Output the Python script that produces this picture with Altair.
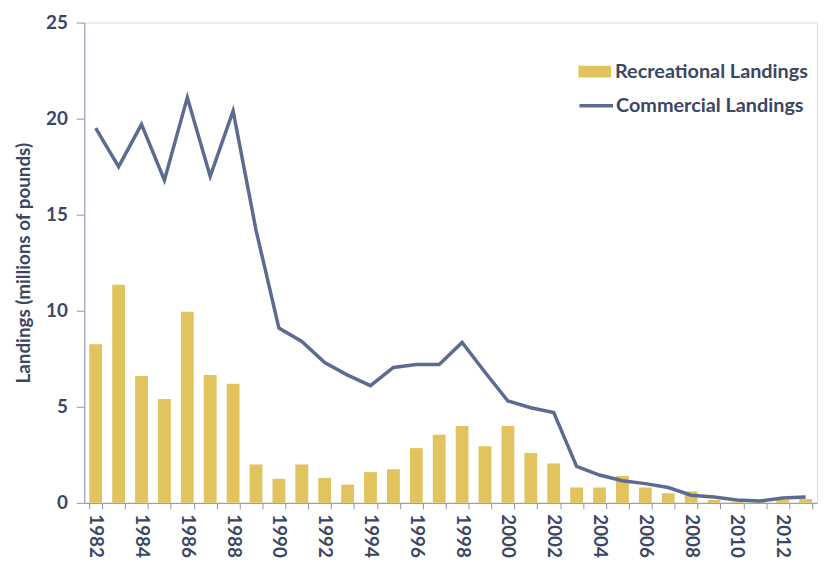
import altair as alt
import pandas as pd

years = [1982, 1983, 1984, 1985, 1986, 1987, 1988, 1989, 1990, 1991,
         1992, 1993, 1994, 1995, 1996, 1997, 1998, 1999, 2000, 2001,
         2002, 2003, 2004, 2005, 2006, 2007, 2008, 2009, 2010, 2011,
         2012, 2013]
recreational = [8.25, 11.35, 6.6, 5.4, 9.95, 6.65, 6.2, 2.0, 1.25, 2.0,
                1.3, 0.95, 1.6, 1.75, 2.85, 3.55, 4.0, 2.95, 4.0, 2.6,
                2.05, 0.8, 0.8, 1.4, 0.8, 0.5, 0.6, 0.15, 0.05, 0.05,
                0.15, 0.2]
commercial = [19.5, 17.5, 19.7, 16.8, 21.1, 17.0, 20.4, 14.2, 9.1, 8.4,
              7.3, 6.65, 6.1, 7.05, 7.2, 7.2, 8.35, 6.8, 5.3, 4.95,
              4.7, 1.9, 1.45, 1.15, 1.0, 0.8, 0.4, 0.3, 0.15, 0.1,
              0.25, 0.3]
y_ticks = [0, 5, 10, 15, 20, 25]

FONT = "Lato"
TXT = "#3b4663"
AX = "#8a94ab"
GOLD = "#e2c45e"
SLATE = "#5b6b92"

df = pd.DataFrame({"year": years, "rec": recreational, "com": commercial})
df["rlab"] = "Recreational Landings"
df["clab"] = "Commercial Landings"

x = alt.X("year:O", title=None,
          scale=alt.Scale(paddingInner=0.44, paddingOuter=0.22),
          axis=alt.Axis(labelAngle=90, labelExpr="datum.value % 2 == 0 ? datum.label : ''",
                        tickBand="extent", labelFont=FONT, labelFontSize=19,
                        labelFontWeight="bold", labelColor=TXT, domainColor=AX,
                        tickColor=AX, tickSize=6, labelPadding=5,
                        labelBaseline="middle", labelAlign="left"))

bars = alt.Chart(df).mark_bar(color=GOLD).encode(
    x=x,
    y=alt.Y("rec:Q", title="Landings (millions of pounds)",
            scale=alt.Scale(domain=[0, 25], nice=False),
            axis=alt.Axis(values=y_ticks, grid=False, labelFont=FONT, labelFontSize=19,
                          labelFontWeight="bold", labelColor=TXT, domainColor=AX,
                          tickColor=AX, tickSize=8, labelPadding=9,
                          titleFont=FONT, titleFontSize=19, titleFontWeight="bold",
                          titleColor=TXT, titlePadding=12)),
    color=alt.Color("rlab:N", scale=alt.Scale(domain=["Recreational Landings"], range=[GOLD]),
                    legend=alt.Legend(title=None, orient="none", legendX=498, legendY=32,
                                      symbolType="M-1,-0.36L1,-0.36L1,0.36L-1,0.36Z",
                                      symbolSize=1089, symbolOpacity=1,
                                      labelFont=FONT, labelFontSize=20, labelLimit=400,
                                      labelFontWeight="bold", labelColor=TXT,
                                      labelOffset=3)),
)

line = alt.Chart(df).mark_line(strokeWidth=3.5, color=SLATE).encode(
    x=x,
    y=alt.Y("com:Q"),
    stroke=alt.Stroke("clab:N", scale=alt.Scale(domain=["Commercial Landings"], range=[SLATE]),
                      legend=alt.Legend(title=None, orient="none", legendX=498, legendY=65,
                                        symbolType="stroke", symbolSize=1150,
                                        symbolStrokeWidth=3.5, labelLimit=400,
                                        labelFont=FONT, labelFontSize=20,
                                        labelFontWeight="bold", labelColor=TXT,
                                        labelOffset=1)),
)

chart = alt.layer(bars, line).properties(
    width=740, height=485,
    autosize=alt.AutoSizeParams(type="none"),
    padding={"left": 77, "top": 12, "right": 7, "bottom": 56},
).configure_view(stroke=AX, strokeWidth=1).configure(background="white")

chart.save("out.html", embed_options={"renderer": "svg", "actions": False})
